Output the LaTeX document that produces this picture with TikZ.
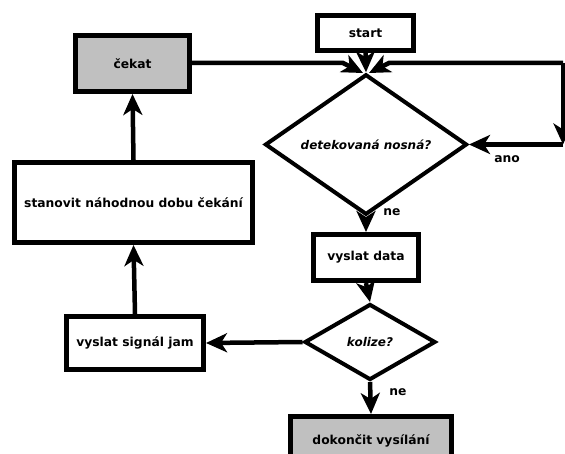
\documentclass[tikz,border=0pt]{standalone}
\usepackage{fontspec}
\setmainfont{DejaVu Sans}
\usetikzlibrary{arrows.meta,shapes.geometric}
\definecolor{fillgray}{HTML}{C0C0C0}
\begin{document}
\begin{tikzpicture}[x=1pt,y=-1pt,
  box/.style={draw,line width=5pt,inner sep=0pt,font=\bfseries\fontsize{12.3}{14}\selectfont,align=center},
  dia/.style={draw,diamond,line width=4pt,inner sep=0pt,font=\bfseries\itshape\fontsize{12}{14}\selectfont},
  arr/.style={line width=4.5pt,-{Stealth[length=21pt,width=19pt,inset=6pt]}},
  lbl/.style={font=\bfseries\fontsize{12.3}{14}\selectfont,inner sep=0pt}]
\useasboundingbox (0,0) rectangle (565,454);
\clip (0,0) rectangle (565,454);
\fill[white] (0,0) rectangle (565,454);
% nodes
\node[box,minimum width=96pt,minimum height=35pt] (start) at (365.5,33) {start};
\node[box,fill=fillgray,minimum width=114pt,minimum height=56pt] (cekat) at (132.5,63.5) {čekat};
\node[box,minimum width=238pt,minimum height=80pt] (stan) at (133.5,202.5) {stanovit náhodnou dobu čekání};
\node[box,minimum width=137pt,minimum height=53pt] (jam) at (135,343) {vyslat signál jam};
\node[box,minimum width=105pt,minimum height=46pt] (vd) at (366,257.5) {vyslat data};
\node[box,fill=fillgray,minimum width=161pt,minimum height=49pt] (dok) at (371,441) {dokončit vysílání};
\node[dia,minimum width=202pt,minimum height=123pt] (d1) at (366,144.5) {detekovaná nosná?};
\node[dia,minimum width=131pt,minimum height=76pt] (kol) at (370,342) {kolize?};
% helper coordinates
\coordinate (jl) at (363,73);
\coordinate (jr) at (369,73);
\coordinate (bl) at (343,63);
\coordinate (br) at (389,63);
\coordinate (c1) at (563,63);
\coordinate (c2) at (563,144.5);
% connectors
\draw[arr] (start.south) -- (d1.north);
\draw[arr] (cekat.east |- bl) -- (bl) -- (jl);
\draw[arr] (c1) -- (br) -- (jr);
\draw[arr] (c1) -- (c2);
\draw[arr] (c2) -- (d1.east);
\draw[arr] (d1.south) -- (vd.north);
\draw[arr] (vd.south) -- (kol.north);
\draw[arr] (kol.south) -- (dok.north);
\draw[arr] (kol.west) -- (jam.east);
\draw[arr] (jam.north) -- (stan.south);
\draw[arr] (stan.north) -- (cekat.south);
% labels
\node[lbl] (ano) at (507,159) {ano};
\node[lbl] (ne1) at (392,212) {ne};
\node[lbl] (ne2) at (398,392) {ne};
\end{tikzpicture}
\end{document}
